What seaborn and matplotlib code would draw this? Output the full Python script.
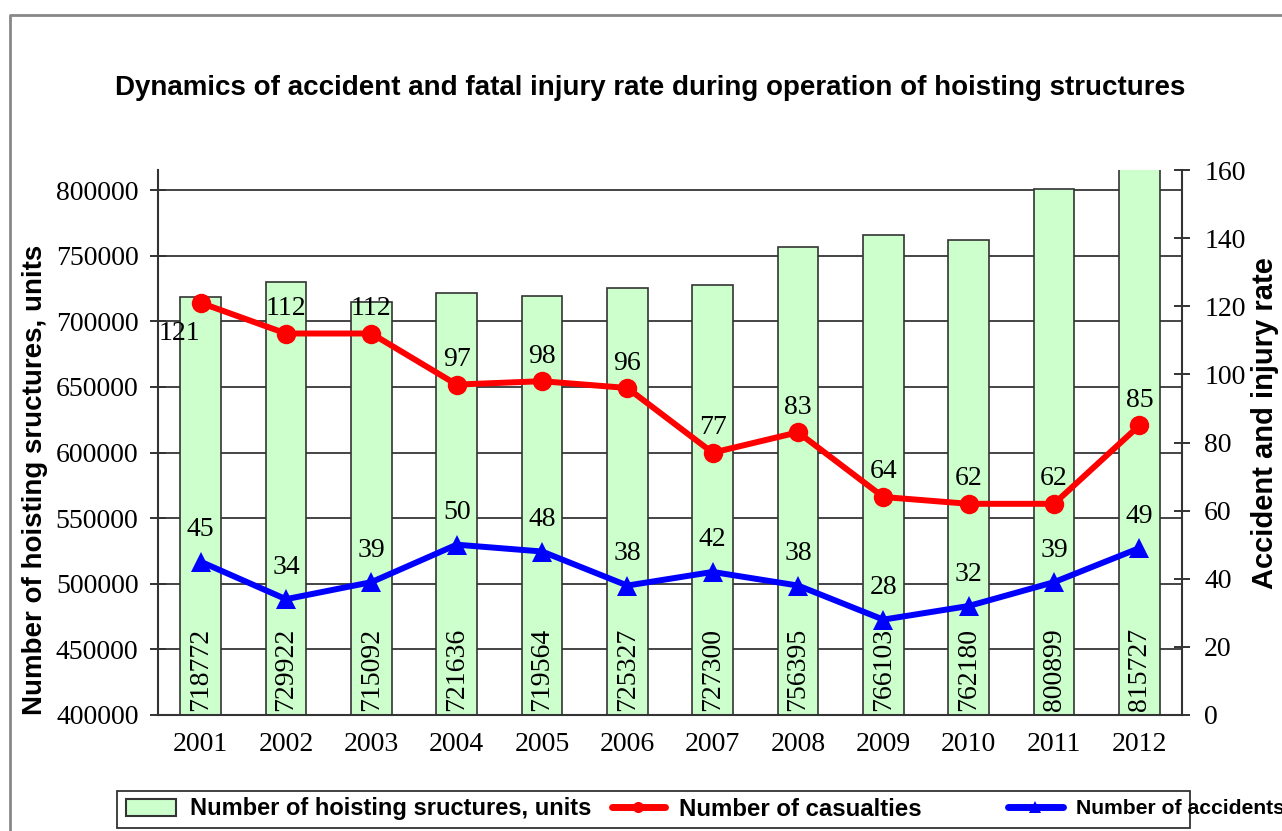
import numpy as np
import matplotlib
matplotlib.use("Agg")
import matplotlib.pyplot as plt
import seaborn as sns
from matplotlib.patches import Patch, Rectangle
from matplotlib.lines import Line2D
from matplotlib.font_manager import FontProperties

# ---------------- data ----------------
years = ["2001", "2002", "2003", "2004", "2005", "2006",
         "2007", "2008", "2009", "2010", "2011", "2012"]
structures = [718772, 729922, 715092, 721636, 719564, 725327,
              727300, 756395, 766103, 762180, 800899, 815727]
casualties = [121, 112, 112, 97, 98, 96, 77, 83, 64, 62, 62, 85]
accidents = [45, 34, 39, 50, 48, 38, 42, 38, 28, 32, 39, 49]

title = "Dynamics of accident and fatal injury rate during operation of hoisting structures"
left_label = "Number of hoisting sructures, units"
right_label = "Accident and injury rate"
legend_labels = ["Number of hoisting sructures, units", "Number of casualties", "Number of accidents"]

W, H = 1282, 831
SERIF = "Liberation Serif"
SANS = "Liberation Sans"
bar_color = "#CCFFCC"
dark = "#333333"
NUM_SIZE = 20

sns.set_style("white")
plt.rcParams["font.family"] = [SERIF, "DejaVu Serif"]
plt.rcParams["text.color"] = "black"
plt.rcParams["axes.labelcolor"] = "black"
plt.rcParams["xtick.color"] = "black"
plt.rcParams["ytick.color"] = "black"

fig = plt.figure(figsize=(W / 100, H / 100), dpi=100)
ax1 = fig.add_axes([158 / W, 1 - 715 / H, 1024 / W, 545 / H])
ax2 = ax1.twinx()
ax1.set_zorder(1)
ax2.set_zorder(2)
ax1.patch.set_visible(False)
ax2.patch.set_visible(False)

# bars
sns.barplot(x=years, y=structures, ax=ax1, color=bar_color, width=0.48,
            edgecolor=dark, linewidth=1.2, saturation=1)
ax1.set_xlim(-0.5, 11.5)
ax1.set_ylim(400000, 815300)
ax1.set_yticks(np.arange(400000, 800001, 50000))
ax1.set_axisbelow(True)
ax1.yaxis.grid(True, color="#444444", linewidth=1.4)
ax1.xaxis.grid(False)

idx = np.arange(len(years))
for i, v in enumerate(structures):
    ax1.annotate(str(v), (i, 400000), xytext=(0, 3), textcoords="offset points",
                 rotation=90, ha="center", va="bottom", fontsize=NUM_SIZE,
                 family=SERIF, color="black", zorder=5)

# lines
sns.lineplot(x=idx, y=casualties, ax=ax2, color="#FF0000", linewidth=4.3,
             marker="o", markersize=14, markeredgewidth=0)
sns.lineplot(x=idx, y=accidents, ax=ax2, color="#0000FF", linewidth=4.3,
             marker="^", markersize=15, markeredgewidth=0)
ax2.set_ylim(0, 160)
ax2.set_yticks(np.arange(0, 161, 20))
ax2.grid(False)

for i, v in enumerate(casualties):
    off = (-15, -22) if i == 0 else (0, 18)
    ax2.annotate(str(v), (i, v), xytext=off, textcoords="offset points",
                 ha="center", va="center", fontsize=NUM_SIZE, family=SERIF,
                 color="black")
for i, v in enumerate(accidents):
    ax2.annotate(str(v), (i, v), xytext=(0, 23), textcoords="offset points",
                 ha="center", va="center", fontsize=NUM_SIZE, family=SERIF,
                 color="black")

# spines
for ax in (ax1, ax2):
    ax.spines["top"].set_visible(False)
    for s in ax.spines.values():
        s.set_color(dark)
        s.set_linewidth(1.5)
ax1.spines["right"].set_visible(False)
ax2.spines["left"].set_visible(False)
ax2.spines["bottom"].set_visible(False)

# ticks
ax1.set_xticks(idx)
ax1.set_xticklabels(years)
ax1.set_xticks(np.arange(-0.5, 12, 1), minor=True)
ax1.tick_params(axis="x", which="major", length=0, pad=12, labelsize=NUM_SIZE,
                labelcolor="black")
ax1.tick_params(axis="x", which="minor", direction="out", length=6, width=1.4, color=dark)
ax1.tick_params(axis="y", which="major", direction="inout", length=12, width=1.4,
                color=dark, pad=8, labelsize=NUM_SIZE, left=True, labelcolor="black")
ax2.tick_params(axis="y", which="major", direction="inout", length=12, width=1.4,
                color=dark, pad=10, labelsize=NUM_SIZE, right=True, labelcolor="black")
for lab in ax1.get_xticklabels() + ax1.get_yticklabels() + ax2.get_yticklabels():
    lab.set_family(SERIF)
ax1.set_xlabel("")

# axis labels
ax1.set_ylabel(left_label, family=SANS, fontweight="bold", fontsize=20, color="black")
ax1.yaxis.set_label_coords((35 - 158) / 1024, (715 - 480) / 545)
ax1.yaxis.label.set_va("center")
ax2.set_ylabel(right_label, family=SANS, fontweight="bold", fontsize=21,
               rotation=90, va="center", color="black")
ax2.yaxis.set_label_coords((1265 - 158) / 1024, (715 - 423) / 545)

# title
fig.text(650 / W, 1 - 88 / H, title, ha="center", va="center",
         family=SANS, fontweight="bold", fontsize=20, color="black")

# legend
h1 = Patch(facecolor=bar_color, edgecolor=dark, linewidth=1.5)
h2 = Line2D([], [], color="#FF0000", lw=5, marker="o", markersize=8, markeredgewidth=0)
h3 = Line2D([], [], color="#0000FF", lw=5, marker="^", markersize=8, markeredgewidth=0)
ycen = 1 - 809 / H
for handle, label, xpx, size, hl in [(h1, legend_labels[0], 126, 17, 2.1),
                                     (h2, legend_labels[1], 612, 17.3, 2.2),
                                     (h3, legend_labels[2], 1008, 15.2, 2.6)]:
    fp = FontProperties(family=SANS, weight="bold", size=size)
    leg = fig.legend([handle], [label], loc="center left", bbox_to_anchor=(xpx / W, ycen),
                     bbox_transform=fig.transFigure, frameon=False, borderpad=0,
                     borderaxespad=0, handlelength=hl, handletextpad=0.6, prop=fp)
    for t in leg.get_texts():
        t.set_color("black")

fig.add_artist(Rectangle((117 / W, 1 - 828 / H), (1190 - 117) / W, 37 / H,
                         transform=fig.transFigure, fill=False, edgecolor=dark, lw=1.3))
fig.add_artist(Line2D([10 / W, 10 / W, 1], [0, 1 - 15 / H, 1 - 15 / H],
                      transform=fig.transFigure, color="#888888", lw=2))

fig.savefig("out.png", dpi=100)
